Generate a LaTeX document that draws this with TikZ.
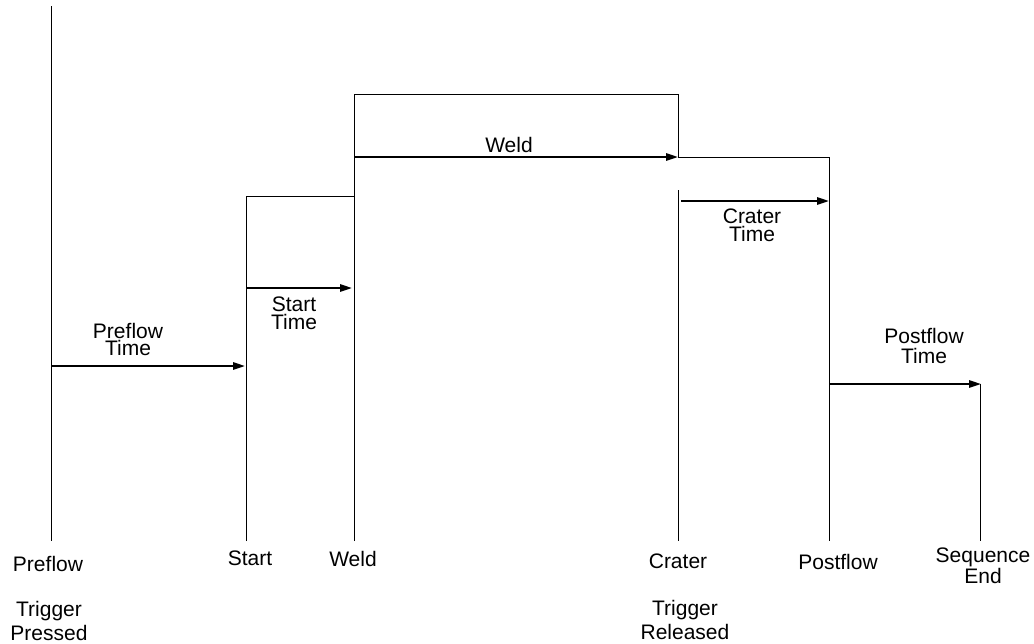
\documentclass[tikz,border=0pt]{standalone}
\usepackage{fontspec}
\setmainfont{Liberation Sans}
\usetikzlibrary{arrows.meta}

\tikzset{
	wire/.style={line width=0.75pt},
	timearrow/.style={line width=1.5pt, -{Triangle[length=9pt,width=5.5pt]}},
	lbl/.style={font=\fontsize{15.75}{#1}\selectfont, align=center, inner sep=0pt},
	lbl/.default=13.5pt
}

\begin{document}
\begin{tikzpicture}[x=0.75pt, y=-0.75pt]
			\useasboundingbox (0,0) rectangle (1034,643);

			% event times along the sequence
			\def\xpre{51}
			\def\xsta{246}
			\def\xwel{354}
			\def\xcra{678}
			\def\xpos{829}
			\def\xend{980}
			\def\ybot{541}

			% output levels
			\draw[wire] (\xpre,6) -- (\xpre,\ybot);
			\draw[wire] (\xsta,\ybot) -- (\xsta,196) -- (\xwel,196);
			\draw[wire] (\xwel,\ybot) -- (\xwel,94) -- (\xcra,94) -- (\xcra,157) -- (\xpos,157) -- (\xpos,\ybot);
			\draw[wire] (\xcra,190) -- (\xcra,\ybot);
			\draw[wire] (\xend,384) -- (\xend,\ybot);

			% timer arrows
			\coordinate (pre a) at (\xpre+1,366);
			\coordinate (pre b) at (\xsta-1,366);
			\coordinate (sta a) at (\xsta,288);
			\coordinate (sta b) at (\xwel-2,288);
			\coordinate (wel a) at (\xwel,157);
			\coordinate (wel b) at (\xcra,157);
			\coordinate (cra a) at (\xcra+3,201);
			\coordinate (cra b) at (\xpos,201);
			\coordinate (pos a) at (\xpos,384);
			\coordinate (pos b) at (\xend+1,384);

			\draw[timearrow] (pre a) -- (pre b);
			\draw[timearrow] (sta a) -- (sta b);
			\draw[timearrow] (wel a) -- (wel b);
			\draw[timearrow] (cra a) -- (cra b);
			\draw[timearrow] (pos a) -- (pos b);

			% timer names
			\node[lbl=12.75pt] (pre time) at (128,339) {Preflow\\Time};
			\node[lbl] (sta time) at (294,313) {Start\\Time};
			\node[lbl] (wel time) at (509,144.5) {Weld};
			\node[lbl] (cra time) at (752,225) {Crater\\Time};
			\node[lbl=15pt] (pos time) at (924,345.5) {Postflow\\Time};

			% event names
			\node[lbl] (pre ev) at (48,564) {Preflow};
			\node[lbl] (sta ev) at (250,558.5) {Start};
			\node[lbl] (wel ev) at (353,558.5) {Weld};
			\node[lbl] (cra ev) at (678,561.5) {Crater};
			\node[lbl] (pos ev) at (838,561.5) {Postflow};
			\node[lbl=15.75pt] (end ev) at (983,566) {Sequence\\End};

			\node[lbl=18pt] (trig on) at (49,621) {Trigger\\Pressed};
			\node[lbl=18pt] (trig off) at (685,620) {Trigger\\Released};

		\end{tikzpicture}
\end{document}
